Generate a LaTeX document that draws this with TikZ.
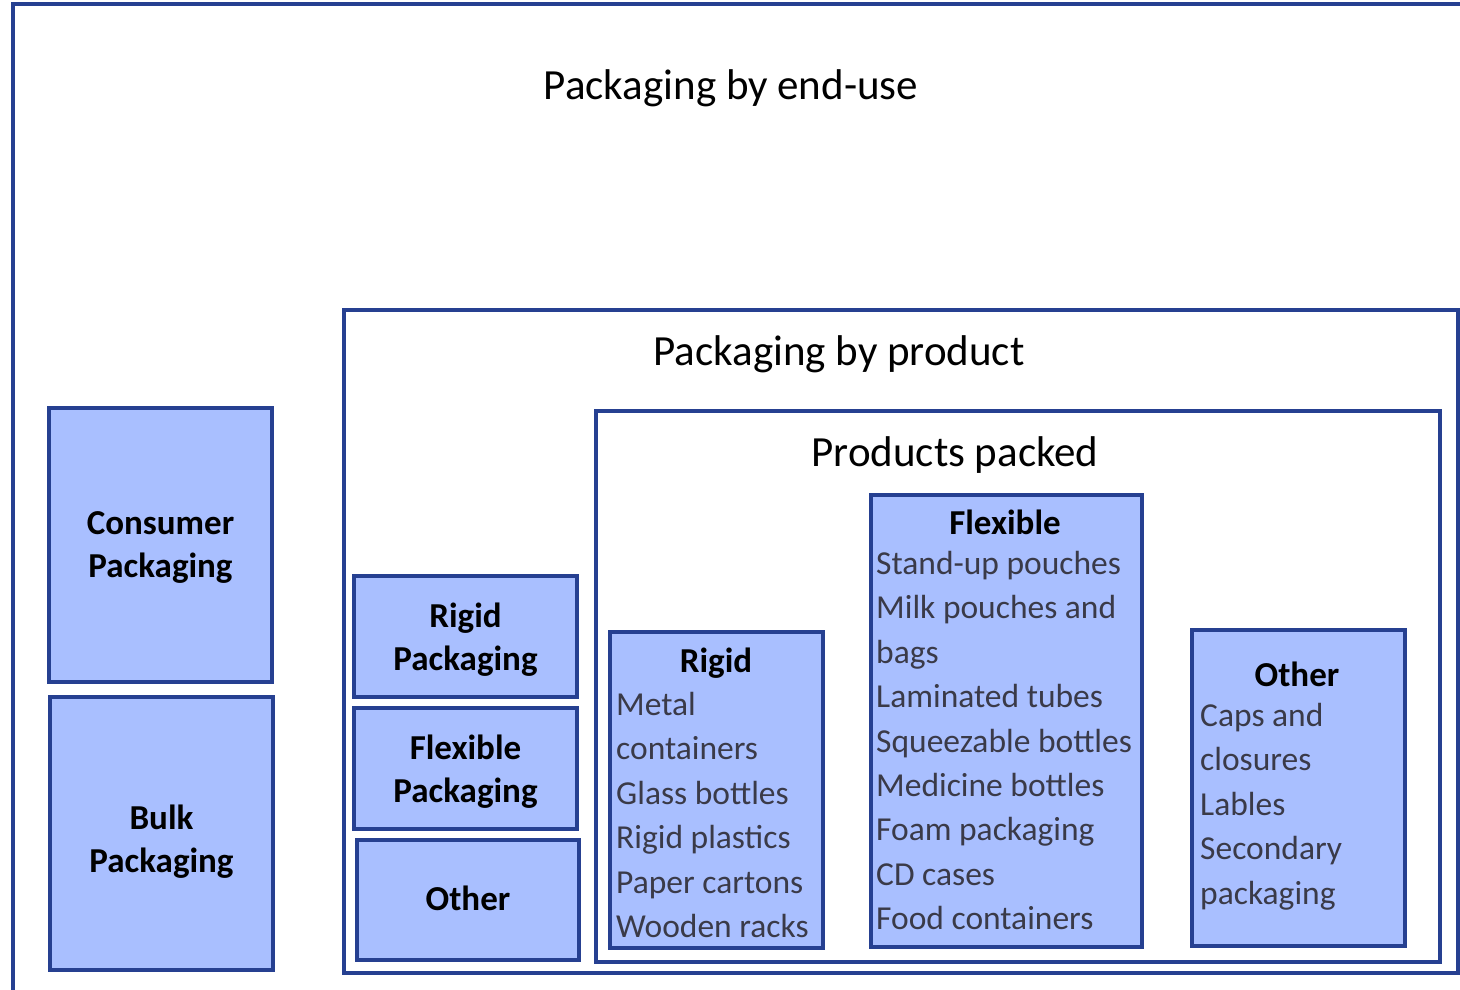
\documentclass[tikz,border=0pt]{standalone}
\usepackage{fontspec}
\setmainfont{Carlito}
\usetikzlibrary{positioning}

\definecolor{boxfill}{RGB}{169,191,255}
\definecolor{boxline}{RGB}{38,64,145}
\definecolor{itemgray}{RGB}{58,58,72}

\tikzset{
	frame/.style={draw=boxline, line width=3.5pt},
	catbox/.style={frame, fill=boxfill, inner sep=0pt, align=center, text depth=0pt,
		font=\fontsize{35}{43}\selectfont\bfseries},
	listbox/.style={frame, fill=boxfill, inner sep=0pt},
	listhead/.style={inner sep=0pt, font=\fontsize{35}{43}\selectfont\bfseries},
	listtext/.style={inner sep=0pt, align=left, text=itemgray,
		font=\fontsize{33.5}{44.4}\selectfont},
	heading/.style={inner sep=0pt, font=\fontsize{43}{50}\selectfont}}

\begin{document}
\begin{tikzpicture}[x=1pt,y=-1pt]
	\useasboundingbox (0,0) rectangle (1460,990);
	\clip (0,0) rectangle (1460,990);
	\fill[white] (0,0) rectangle (1460,990);

	% nested frames
	\draw[frame] (13,4) rectangle (1520,1040);
	\draw[frame] (344,310) rectangle (1458,973);
	\draw[frame] (596,411) rectangle (1440,962);

	% headings
	\node[heading] (enduse) at (731,88) {Packaging by end-use};
	\node[heading] (byproduct) at (839,354) {Packaging by product};
	\node[heading] (packed) at (955,455) {Products packed};

	% end-use boxes
	\node[catbox, minimum width=223pt, minimum height=274pt] (consumer) at (160.5,545) {Consumer\\Packaging};
	\node[catbox, minimum width=223pt, minimum height=273pt] (bulk) at (161.5,833.5) {};
	\node[catbox, draw=none, fill=none] (bulktext) at (161.5,838.5) {Bulk\\Packaging};

	% product boxes
	\node[catbox, minimum width=223pt, minimum height=121pt] (rigidpack) at (465.5,636.5) {Rigid\\Packaging};
	\node[catbox, minimum width=223pt, minimum height=121pt] (flexpack) at (465.5,768.5) {Flexible\\Packaging};
	\node[catbox, minimum width=222pt, minimum height=120pt] (otherpack) at (468,900) {};
	\node[catbox, draw=none, fill=none] (othertext) at (468,898) {Other};

	% packed product lists
	\node[listbox, minimum width=213pt, minimum height=316pt] (rigid) at (716.5,790) {};
	\node[listhead] (rigidhead) at (716,663) {Rigid};
	\node[listtext, anchor=north west] (rigiditems) at (616,692)
		{Metal\\containers\\Glass bottles\\Rigid plastics\\Paper cartons\\Wooden racks};

	\node[listbox, minimum width=271pt, minimum height=452pt] (flex) at (1006.5,721) {};
	\node[listhead] (flexhead) at (1005,522) {Flexible};
	\node[listtext, anchor=north west] (flexitems) at (876,551)
		{Stand-up pouches\\Milk pouches and\\bags\\Laminated tubes\\Squeezable bottles\\Medicine bottles\\Foam packaging\\CD cases\\Food containers};

	\node[listbox, minimum width=213pt, minimum height=316pt] (other) at (1298.5,788) {};
	\node[listhead] (otherhead) at (1297,674) {Other};
	\node[listtext, anchor=north west] (otheritems) at (1200,703)
		{Caps and\\closures\\Lables\\Secondary\\packaging};
\end{tikzpicture}
\end{document}
